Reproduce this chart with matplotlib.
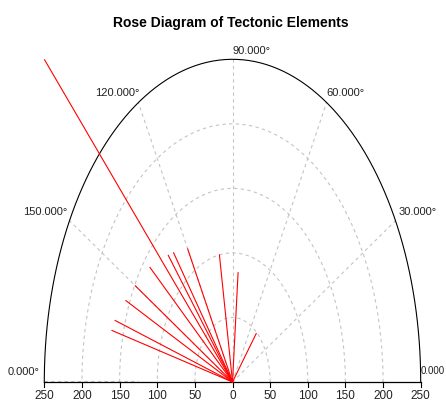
import numpy as np
import matplotlib
matplotlib.use("Agg")
import matplotlib.pyplot as plt

plt.rcParams['font.family'] = ['Liberation Sans Narrow', 'Liberation Sans', 'DejaVu Sans']

# strike (degrees) and length of each tectonic element
angles = [135, 166, 163, 156, 150, 141, 131, 128, 120, 100, 85, 50]
lengths = [353, 165, 163, 155, 149, 141, 130, 127, 119, 100, 85, 49]

rmax = 250
rings = [50, 100, 150, 200]
spokes = [30, 60, 90, 120, 150]
ticks = [-250, -200, -150, -100, -50, 0, 50, 100, 150, 200, 250]
tick_labels = [str(abs(t)) for t in ticks]
angle_labels = ["0.000°", "30.000°", "60.000°", "90.000°", "120.000°", "150.000°", "0.000"]

fig = plt.figure(figsize=(4.46, 4.01), dpi=100)
ax = fig.add_axes([44.3/446, 19/401, 376.4/446, 322.7/401])
ax.set_xlim(-rmax, rmax)
ax.set_ylim(0, rmax)
ax.axis('off')

grid_kw = dict(color='#c4c4c4', lw=0.8, ls=(0, (3, 3)), zorder=1)
th = np.linspace(0, np.pi, 200)
for r in rings:
    ax.plot(r*np.cos(th), r*np.sin(th), **grid_kw)
for a in spokes:
    t = np.radians(a)
    ax.plot([0, rmax*np.cos(t)], [0, rmax*np.sin(t)], **grid_kw)
ax.plot([-rmax, -125], [0.8, 0.8], **grid_kw)

# outer arc and base line
ax.plot(rmax*np.cos(th), rmax*np.sin(th), color='black', lw=0.8, zorder=2, clip_on=False)
ax.plot([-rmax, rmax], [0, 0], color='black', lw=0.9, zorder=2, clip_on=False)
for t, lab in zip(ticks, tick_labels):
    ax.plot([t, t], [0, -3.5], color='black', lw=0.8, clip_on=False)
    ax.text(t, -11, lab, ha='center', va='center', fontsize=8.5, color='#222222')

# angle labels (positions in data units)
lab_pos = [(-255.9, 7.4, 'right'), (220.7, 131.5, 'left'), (150.3, 224.2, 'center'),
           (24.6, 256.8, 'center'), (-153.6, 224.2, 'center'), (-219.4, 131.5, 'right'),
           (250, 8.5, 'left')]
for lab, (x, y, ha) in zip(angle_labels, lab_pos):
    ax.text(x, y, lab, ha=ha, va='center', fontsize=7 if lab == "0.000" else 8,
            color='#222222', clip_on=False)

# tectonic elements
for a, L in zip(angles, lengths):
    t = np.radians(a)
    ax.plot([0, L*np.cos(t)], [0, L*np.sin(t)], color='red', lw=0.8, zorder=3, clip_on=False)

fig.text(231/446, 1 - 23/401, "Rose Diagram of Tectonic Elements", ha='center', va='center',
         fontsize=10, fontweight='bold')

fig.savefig("out.png", dpi=100)
